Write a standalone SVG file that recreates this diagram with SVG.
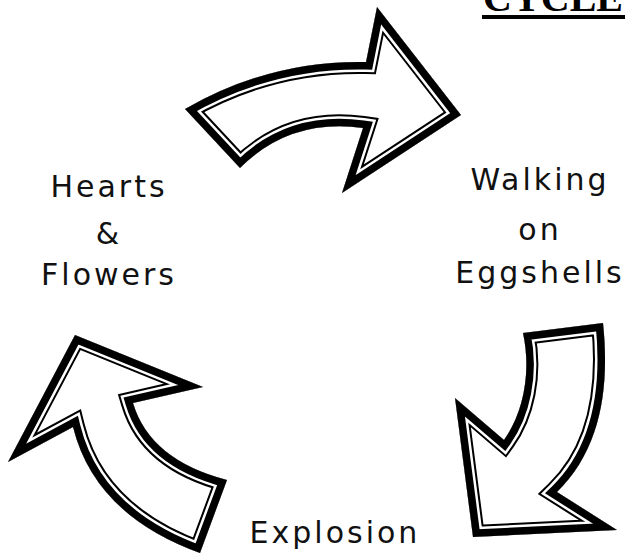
<svg xmlns="http://www.w3.org/2000/svg" xmlns:xlink="http://www.w3.org/1999/xlink" width="625" height="557" viewBox="0 0 625 557">
<style>
.lbl{font-family:"DejaVu Sans","Liberation Sans",sans-serif;font-size:30px;letter-spacing:3px;fill:#111;text-anchor:middle}
.title{font-family:"Liberation Serif","Times New Roman",serif;font-weight:bold;font-size:40px;fill:#000}
.a0{fill:#fff;stroke:#000;stroke-width:24;stroke-linejoin:miter;stroke-miterlimit:20}
.a1{fill:none;stroke:#fff;stroke-width:20;stroke-linejoin:miter;stroke-miterlimit:20}
.a2{fill:none;stroke:#000;stroke-width:15;stroke-linejoin:miter;stroke-miterlimit:20}
</style>
<defs>
<path id="pTop" d="M185,109 Q270,60 366,62 L377,7 L461,115 L342,193 L363,128 Q290,118 240,168 Z"/>
<path id="pRight" d="M523,333 L603,323 C610,390 600,450 557,492 L617,530 L473,537 L455,398 L504,440 C522,415 532,375 523,333 Z"/>
<path id="pLeft" d="M75,335 L203,387 L133,403 Q150,460 227,480 L200,553 Q95,515 73,427 L8,462 Z"/>
<clipPath id="cTop"><use xlink:href="#pTop"/></clipPath>
<clipPath id="cRight"><use xlink:href="#pRight"/></clipPath>
<clipPath id="cLeft"><use xlink:href="#pLeft"/></clipPath>
</defs>
<rect width="625" height="557" fill="#fff"/>
<g id="connectors">
<g id="arrow-top" clip-path="url(#cTop)"><use xlink:href="#pTop" class="a0"/><use xlink:href="#pTop" class="a1"/><use xlink:href="#pTop" class="a2"/></g>
<g id="arrow-right" clip-path="url(#cRight)"><use xlink:href="#pRight" class="a0"/><use xlink:href="#pRight" class="a1"/><use xlink:href="#pRight" class="a2"/></g>
<g id="arrow-left" clip-path="url(#cLeft)"><use xlink:href="#pLeft" class="a0"/><use xlink:href="#pLeft" class="a1"/><use xlink:href="#pLeft" class="a2"/></g>
</g>
<g id="title"><text class="title" x="483" y="11">CYCLE</text><rect x="482" y="15" width="143" height="4" fill="#000"/></g>
<g id="node-hearts"><text class="lbl" x="109" y="197">Hearts</text><text class="lbl" x="109" y="244">&amp;</text><text class="lbl" x="109" y="285">Flowers</text></g>
<g id="node-walking"><text class="lbl" x="540" y="190">Walking</text><text class="lbl" x="540" y="240">on</text><text class="lbl" x="540" y="283">Eggshells</text></g>
<g id="node-explosion"><text class="lbl" x="335" y="543">Explosion</text></g>
</svg>
